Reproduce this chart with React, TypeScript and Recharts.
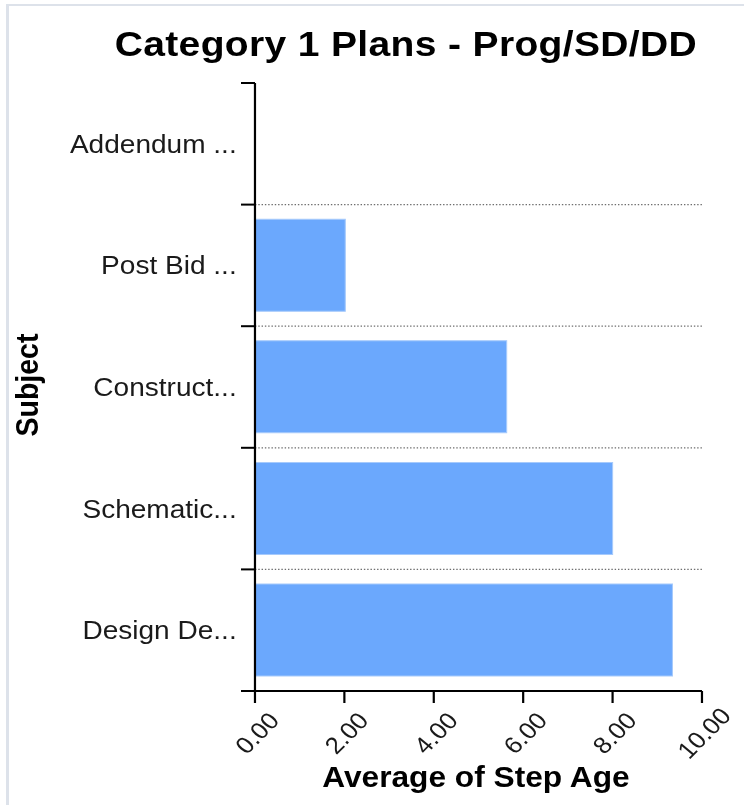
import React from "react";
import { BarChart, Bar, XAxis, YAxis, CartesianGrid } from "recharts";

const categories = ["Addendum ...", "Post Bid ...", "Construct...", "Schematic...", "Design De..."];
const stepAge = [0, 2.02, 5.63, 8.0, 9.34];
const xTicks = [0, 2, 4, 6, 8, 10];
const chartTitle = "Category 1 Plans - Prog/SD/DD";
const xTitle = "Average of Step Age";
const yTitle = "Subject";

const data = categories.map((subject, i) => ({ subject, value: stepAge[i] }));

const FONT = "'Liberation Sans', Arial, sans-serif";
const STRETCH = 1.1;
const W = 744 / STRETCH;
const H = 805;
const MARGIN = { top: 83, right: 38.2, bottom: 14, left: 31.8 };
const X_AXIS_H = 100;
const Y_AXIS_W = 200;
const PLOT_H = H - MARGIN.top - MARGIN.bottom - X_AXIS_H;
const BAND = PLOT_H / categories.length;

function YTick(props: any) {
  const { x, y, payload, index } = props;
  const half = BAND / 2;
  return (
    <g>
      <line x1={x - 12.7} x2={x} y1={y - half} y2={y - half} stroke="#000" strokeWidth={2} />
      {index === categories.length - 1 && (
        <line x1={x - 12.7} x2={x} y1={y + half} y2={y + half} stroke="#000" strokeWidth={2} />
      )}
      <text
        x={x - 16.6}
        y={y}
        dy="0.355em"
        textAnchor="end"
        fontSize={25.5}
        fill="#1a1a1a"
        fontFamily={FONT}
      >
        {payload.value}
      </text>
    </g>
  );
}

function XTick(props: any) {
  const { x, y, payload } = props;
  return (
    <text
      transform={`translate(${x + 1.8},${y + 30}) rotate(-47.7)`}
      textAnchor="middle"
      dy="0.35em"
      fontSize={23.5}
      fill="#1a1a1a"
      fontFamily={FONT}
    >
      {Number(payload.value).toFixed(2)}
    </text>
  );
}

function XTitle(props: any) {
  const vb = props.viewBox || { x: MARGIN.left + Y_AXIS_W, y: H - MARGIN.bottom - X_AXIS_H, width: 407, height: X_AXIS_H };
  return (
    <text
      x={vb.x + vb.width / 2 - 2.3}
      y={vb.y + 96.5}
      textAnchor="middle"
      fontSize={28.8}
      fontWeight="bold"
      fill="#000"
      fontFamily={FONT}
    >
      {xTitle}
    </text>
  );
}

function YTitle(props: any) {
  const vb = props.viewBox || { x: MARGIN.left, y: MARGIN.top, width: Y_AXIS_W, height: PLOT_H };
  const cx = vb.x + 3.2;
  const cy = vb.y + vb.height / 2 - 2;
  return (
    <text
      transform={`translate(${cx},${cy}) rotate(-90)`}
      textAnchor="middle"
      fontSize={28.5}
      fontWeight="bold"
      fill="#000"
      fontFamily={FONT}
    >
      {yTitle}
    </text>
  );
}

const gridGen = (args: any) => {
  const off = args && args.offset;
  const top = off && typeof off.top === "number" ? off.top : MARGIN.top;
  const h = off && typeof off.height === "number" ? off.height : PLOT_H;
  const n = categories.length;
  return categories.slice(1).map((_, i) => top + ((i + 1) * h) / n);
};

export default function App() {
  return (
    <div
      style={{
        position: "absolute",
        left: 0,
        top: 0,
        width: 744,
        height: 805,
        background: "#fff",
        overflow: "hidden",
      }}
    >
      <div
        style={{
          position: "absolute",
          left: 6,
          top: 4,
          width: 740,
          height: 803,
          borderLeft: "3px solid #dde2ea",
          borderTop: "2px solid #dde2ea",
          boxSizing: "border-box",
          pointerEvents: "none",
        }}
      />
      <div
        style={{
          position: "absolute",
          left: 0,
          top: 0,
          width: W,
          height: H,
          transform: `scaleX(${STRETCH})`,
          transformOrigin: "0 0",
        }}
      >
        <div
          style={{
            position: "absolute",
            left: 0,
            top: 27.4,
            width: 738,
            textAlign: "center",
            fontFamily: FONT,
            fontWeight: "bold",
            fontSize: 35.5,
            lineHeight: "35px",
            letterSpacing: 0.3,
            color: "#000",
            whiteSpace: "nowrap",
          }}
        >
          {chartTitle}
        </div>
        <BarChart
          width={W}
          height={H}
          layout="vertical"
          data={data}
          margin={MARGIN}
          barCategoryGap="12%"
        >
          <CartesianGrid
            vertical={false}
            horizontalCoordinatesGenerator={gridGen}
            stroke="#6e6e6e"
            strokeWidth={1.3}
            strokeDasharray="1.3 1.7"
          />
          <XAxis
            type="number"
            domain={[0, 10]}
            ticks={xTicks}
            interval={0}
            height={X_AXIS_H}
            tickSize={12}
            tickMargin={0}
            tick={<XTick />}
            axisLine={{ stroke: "#000", strokeWidth: 2 }}
            tickLine={{ stroke: "#000", strokeWidth: 2 }}
            label={<XTitle />}
          />
          <YAxis
            type="category"
            dataKey="subject"
            width={Y_AXIS_W}
            interval={0}
            tickSize={0}
            tickMargin={0}
            tickLine={false}
            axisLine={{ stroke: "#000", strokeWidth: 2 }}
            tick={<YTick />}
            label={<YTitle />}
          />
          <Bar
            dataKey="value"
            fill="#6ba8fd"
            stroke="#a6cafc"
            strokeWidth={1}
            isAnimationActive={false}
          />
        </BarChart>
      </div>
    </div>
  );
}
